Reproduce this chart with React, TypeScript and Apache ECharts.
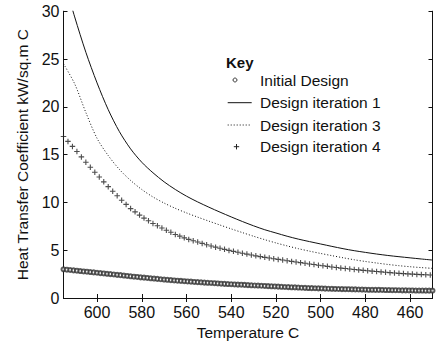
import React, { useEffect, useRef } from "react";
import * as echarts from "echarts";

// Temperature grid (°C) for the continuous curves
const lineTemps = [
  615, 610, 605, 600, 595, 590, 585, 580, 575, 570, 565, 560, 555, 550, 545, 540, 535,
  530, 525, 520, 515, 510, 505, 500, 495, 490, 485, 480, 475, 470, 465, 460, 455, 450,
];

// Design iteration 1 (solid line), kW/sq.m C
const iteration1 = [
  33.4, 29.4, 25.7, 22.5, 19.7, 17.4, 15.6, 14.2, 13.1, 12.15, 11.35, 10.65, 10.05, 9.5, 8.98, 8.48, 8.0,
  7.55, 7.14, 6.8, 6.46, 6.16, 5.9, 5.65, 5.4, 5.16, 4.95, 4.77, 4.6, 4.45, 4.32, 4.2, 4.08, 3.97,
];

// Design iteration 3 (dotted line)
const iteration3 = [
  24.5, 22.4, 19.4, 16.7, 14.9, 13.45, 12.3, 11.35, 10.57, 9.93, 9.38, 8.9, 8.46, 8.04, 7.63, 7.23, 6.84,
  6.46, 6.1, 5.76, 5.45, 5.16, 4.9, 4.66, 4.43, 4.21, 4.0, 3.82, 3.66, 3.51, 3.38, 3.27, 3.18, 3.1,
];

// Initial design samples (open circles)
const initialTemps = [
  615, 613.5, 612, 610.5, 609, 607.5, 606, 604.5, 603, 601.5, 600, 598.5, 597, 595.5, 594, 592.5,
  591, 589.5, 588, 586.5, 585, 583.5, 582, 580.5, 579, 577.5, 576, 574.5, 573, 571.5, 570, 568.5,
  567, 565.5, 564, 562.5, 561, 559.5, 558, 556.5, 555, 553.5, 552, 550.5, 549, 547.5, 546, 544.5,
  543, 541.5, 540, 538.5, 537, 535.5, 534, 532.5, 531, 529.5, 528, 526.5, 525, 523.5, 522, 520.5,
  519, 517.5, 516, 514.5, 513, 511.5, 510, 508.5, 507, 505.5, 504, 502.5, 501, 499.5, 498, 496.5,
  495, 493.5, 492, 490.5, 489, 487.5, 486, 484.5, 483, 481.5, 480, 478.5, 477, 475.5, 474, 472.5,
  471, 469.5, 468, 466.5, 465, 463.5, 462, 460.5, 459, 457.5, 456, 454.5, 453, 451.5, 450,
];
const initialDesign = [
  3.0, 2.96, 2.93, 2.89, 2.86, 2.82, 2.78, 2.75, 2.71, 2.68, 2.64, 2.6, 2.57, 2.53, 2.5, 2.46,
  2.42, 2.39, 2.35, 2.31, 2.27, 2.23, 2.2, 2.16, 2.13, 2.1, 2.06, 2.03, 2.0, 1.96, 1.93, 1.9,
  1.87, 1.84, 1.81, 1.79, 1.76, 1.73, 1.71, 1.68, 1.66, 1.64, 1.61, 1.59, 1.57, 1.55, 1.52, 1.5,
  1.48, 1.46, 1.44, 1.42, 1.4, 1.39, 1.37, 1.35, 1.33, 1.31, 1.3, 1.28, 1.26, 1.24, 1.22, 1.21,
  1.19, 1.17, 1.15, 1.14, 1.12, 1.11, 1.09, 1.07, 1.06, 1.04, 1.03, 1.02, 1.01, 1.0, 0.98, 0.97,
  0.96, 0.95, 0.94, 0.93, 0.92, 0.92, 0.91, 0.9, 0.89, 0.88, 0.87, 0.86, 0.86, 0.85, 0.85, 0.84,
  0.83, 0.83, 0.82, 0.82, 0.81, 0.8, 0.8, 0.79, 0.79, 0.78, 0.78, 0.78, 0.77, 0.77, 0.77,
];

// Design iteration 4 samples (plus markers)
const iteration4Temps = [
  615, 613, 611, 609, 607, 605, 603, 601, 599, 597, 595, 593, 591, 589, 587, 585, 583, 581, 579,
  577, 575, 573, 571, 569, 567, 565, 563, 561, 559, 557, 555, 553, 551, 549, 547, 545, 543, 541,
  539, 537, 535, 533, 531, 529, 527, 525, 523, 521, 519, 517, 515, 513, 511, 509, 507, 505, 503,
  501, 499, 497, 495, 493, 491, 489, 487, 485, 483, 481, 479, 477, 475, 473, 471, 469, 467, 465,
  463, 461, 459, 457, 455, 453, 451,
];
const iteration4 = [
  16.9, 16.38, 15.86, 15.32, 14.76, 14.2, 13.68, 13.16, 12.65, 12.15, 11.65, 11.17, 10.69, 10.23,
  9.79, 9.35, 9.01, 8.67, 8.36, 8.08, 7.8, 7.56, 7.32, 7.09, 6.87, 6.65, 6.47, 6.29, 6.13, 5.99,
  5.85, 5.71, 5.57, 5.44, 5.32, 5.2, 5.09, 4.98, 4.88, 4.78, 4.68, 4.59, 4.5, 4.41, 4.33, 4.25,
  4.18, 4.11, 4.04, 3.97, 3.9, 3.83, 3.76, 3.7, 3.63, 3.56, 3.5, 3.43, 3.37, 3.31, 3.25, 3.19,
  3.13, 3.08, 3.03, 2.98, 2.94, 2.89, 2.85, 2.81, 2.77, 2.73, 2.69, 2.65, 2.62, 2.58, 2.55, 2.52,
  2.5, 2.47, 2.45, 2.43, 2.41,
];

const xTickValues = [600, 580, 560, 540, 520, 500, 480, 460];

const keyTitle = "Key";
const keyLabels = ["Initial Design", "Design iteration 1", "Design iteration 3", "Design iteration 4"];

const FONT = "'Liberation Sans', Arial, Helvetica, sans-serif";
const INK = "#111";
const PLUS = "path://M0,4H10V6H0Z M4,0H6V10H4Z";

const zip = (xs: number[], ys: number[]) => xs.map((x, i) => [x, ys[i]]);

export default function App() {
  const ref = useRef<HTMLDivElement>(null);

  useEffect(() => {
    if (!ref.current) return;
    const chart = echarts.init(ref.current, undefined, { renderer: "svg" });

    const axisLine = { show: true, lineStyle: { color: INK, width: 1 } };
    const xBase = {
      type: "value" as const,
      min: 450,
      max: 615,
      inverse: true,
      splitLine: { show: false },
      axisLine,
      axisTick: { show: true, inside: true, length: 4, customValues: xTickValues, lineStyle: { color: INK } },
    };
    const yBase = {
      type: "value" as const,
      min: 0,
      max: 30,
      interval: 5,
      splitLine: { show: false },
      axisLine,
      axisTick: { show: true, inside: true, length: 4, lineStyle: { color: INK } },
    };

    // Key block in the upper right of the plot
    const keyX = 226;
    const textX = 260;
    const rowY = [80, 102.7, 125, 146.7];
    const keyText = (text: string, y: number, bold = false) => ({
      type: "text",
      x: bold ? keyX : textX,
      y,
      style: {
        text,
        fontFamily: FONT,
        fontSize: bold ? 15 : 15.5,
        fontWeight: bold ? "bold" : "normal",
        fill: INK,
        align: "left",
        verticalAlign: "middle",
      },
    });

    chart.setOption({
      animation: false,
      backgroundColor: "#fff",
      grid: { left: 63.5, right: 4.5, top: 11.2, bottom: 43, outerBoundsMode: "none" },
      xAxis: [
        {
          ...xBase,
          position: "bottom",
          name: "Temperature C",
          nameLocation: "middle",
          nameGap: 21,
          nameTextStyle: { fontFamily: FONT, fontSize: 15.5, color: INK },
          axisLabel: {
            customValues: xTickValues,
            margin: 6,
            fontFamily: FONT,
            fontSize: 16,
            color: INK,
          },
        },
        { ...xBase, position: "top", axisLabel: { show: false } },
      ],
      yAxis: [
        {
          ...yBase,
          position: "left",
          name: "Heat Transfer Coefficient kW/sq.m C",
          nameLocation: "middle",
          nameRotate: 90,
          nameGap: 30,
          nameTextStyle: { fontFamily: FONT, fontSize: 15.5, color: INK },
          axisLabel: { margin: 4, fontFamily: FONT, fontSize: 16, color: INK },
        },
        { ...yBase, position: "right", axisLabel: { show: false } },
      ],
      series: [
        {
          name: keyLabels[0],
          type: "scatter",
          data: zip(initialTemps, initialDesign),
          symbol: "emptyCircle",
          symbolSize: 4,
          itemStyle: { color: "#333", borderColor: "#333", borderWidth: 0.7 },
        },
        {
          name: keyLabels[1],
          type: "line",
          data: zip(lineTemps, iteration1),
          smooth: 0.3,
          showSymbol: false,
          symbol: "none",
          lineStyle: { color: INK, width: 1 },
        },
        {
          name: keyLabels[2],
          type: "line",
          data: zip(lineTemps, iteration3),
          smooth: 0.3,
          showSymbol: false,
          symbol: "none",
          lineStyle: { color: INK, width: 1, type: [1, 2] },
        },
        {
          name: keyLabels[3],
          type: "scatter",
          data: zip(iteration4Temps, iteration4),
          symbol: PLUS,
          symbolSize: 5.5,
          itemStyle: { color: "#222" },
        },
      ],
      graphic: [
        keyText(keyTitle, 62.3, true),
        { type: "circle", shape: { cx: 235, cy: rowY[0], r: 2 }, style: { fill: "#fff", stroke: INK, lineWidth: 0.8 } },
        keyText(keyLabels[0], rowY[0]),
        { type: "line", shape: { x1: 227.7, y1: rowY[1], x2: 251.7, y2: rowY[1] }, style: { stroke: INK, lineWidth: 1 } },
        keyText(keyLabels[1], rowY[1]),
        { type: "line", shape: { x1: 227.7, y1: rowY[2], x2: 251.7, y2: rowY[2] }, style: { stroke: INK, lineWidth: 1, lineDash: [1, 2] } },
        keyText(keyLabels[2], rowY[2]),
        { type: "line", shape: { x1: 233.8, y1: rowY[3], x2: 239.2, y2: rowY[3] }, style: { stroke: "#222", lineWidth: 1 } },
        { type: "line", shape: { x1: 236.5, y1: rowY[3] - 2.7, x2: 236.5, y2: rowY[3] + 2.7 }, style: { stroke: "#222", lineWidth: 1 } },
        keyText(keyLabels[3], rowY[3]),
      ],
    });

    return () => chart.dispose();
  }, []);

  return (
    <div
      ref={ref}
      style={{ position: "fixed", left: 0, top: 0, width: 437, height: 341, background: "#fff" }}
    />
  );
}
